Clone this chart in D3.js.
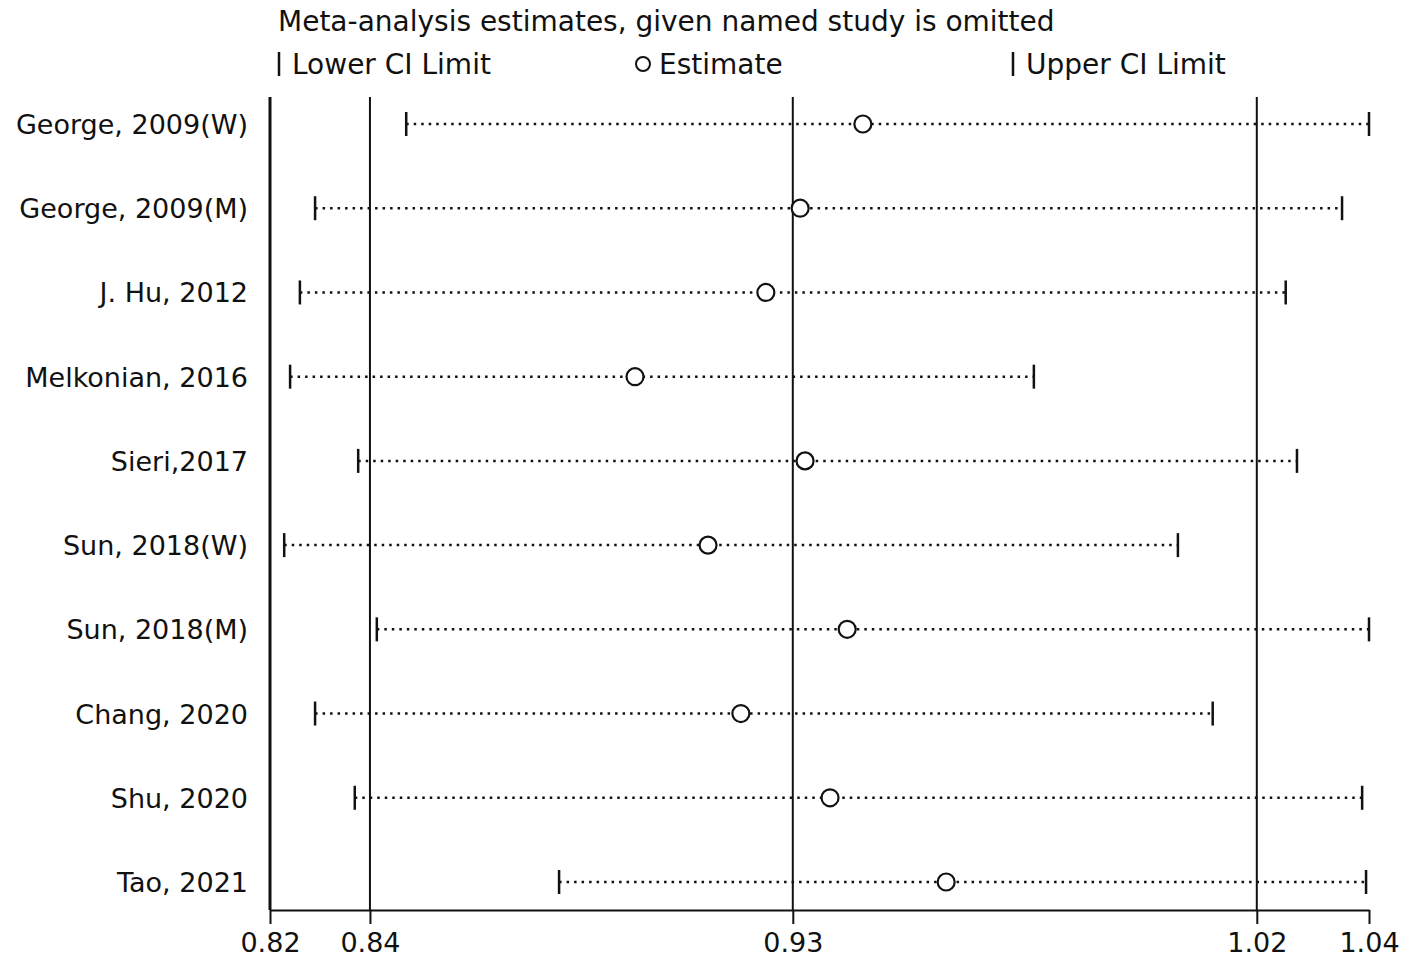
<!DOCTYPE html>
<html>
<head>
<meta charset="utf-8">
<script src="https://cdn.jsdelivr.net/npm/d3@7"></script>
<style>
  body { margin: 0; background: #fff; }
  text { font-family: "DejaVu Sans", "Noto Sans", sans-serif; fill: #111; }
</style>
</head>
<body>
<div id="graph1"></div>
<script>
let width = 1421;
let height = 964;

// data
let studies = ["George, 2009(W)", "George, 2009(M)", "J. Hu, 2012", "Melkonian, 2016", "Sieri,2017",
               "Sun, 2018(W)", "Sun, 2018(M)", "Chang, 2020", "Shu, 2020", "Tao, 2021"];
let lower = [0.8473, 0.8287, 0.8256, 0.8236, 0.8375, 0.8224, 0.8413, 0.8287, 0.8368, 0.8785];
let estimate = [0.9405, 0.9277, 0.9207, 0.8940, 0.9287, 0.9089, 0.9373, 0.9156, 0.9338, 0.9575];
let upper = [1.0438, 1.0383, 1.0268, 0.9754, 1.0291, 1.0048, 1.0438, 1.0119, 1.0424, 1.0432];
let tickVals = [0.8195, 0.8399, 0.9262, 1.0209, 1.0438]; // min, overall lower, overall est, overall upper, max
let refLines = [0.8399, 0.9262, 1.0209];

let svg = d3.select('#graph1')
    .append('svg')
        .attr('width', width)
        .attr('height', height);

let x = d3.scaleLinear()
    .domain([0.8195, 1.0438])
    .range([270, 1369]);

let y = d3.scalePoint()
    .domain(studies)
    .range([124, 882]);

let plotTop = 97, plotBottom = 910;

// title + legend
svg.append('text')
    .attr('x', 278).attr('y', 31)
    .style('font-size', '28px')
    .text('Meta-analysis estimates, given named study is omitted');

let legY = 64;
svg.append('line').attr('x1', 279).attr('x2', 279).attr('y1', legY - 12).attr('y2', legY + 12)
    .attr('stroke', '#111').attr('stroke-width', 2.5);
svg.append('text').attr('x', 292).attr('y', legY + 10).style('font-size', '28px').text('Lower CI Limit');
svg.append('circle').attr('cx', 643).attr('cy', legY).attr('r', 7)
    .attr('fill', 'none').attr('stroke', '#111').attr('stroke-width', 2);
svg.append('text').attr('x', 659).attr('y', legY + 10).style('font-size', '28px').text('Estimate');
svg.append('line').attr('x1', 1013).attr('x2', 1013).attr('y1', legY - 12).attr('y2', legY + 12)
    .attr('stroke', '#111').attr('stroke-width', 2.5);
svg.append('text').attr('x', 1026).attr('y', legY + 10).style('font-size', '28px').text('Upper CI Limit');

// reference lines
refLines.forEach(function(d){
    svg.append('line')
        .attr('x1', x(d)).attr('x2', x(d))
        .attr('y1', plotTop).attr('y2', plotBottom)
        .attr('stroke', '#111').attr('stroke-width', 2);
});

// left axis line
svg.append('line')
    .attr('x1', 270).attr('x2', 270)
    .attr('y1', plotTop).attr('y2', plotBottom)
    .attr('stroke', '#111').attr('stroke-width', 3);

// x axis
let xAxis = d3.axisBottom(x)
    .tickValues(tickVals)
    .tickFormat(d3.format('.2f'))
    .tickSize(14)
    .tickSizeOuter(0)
    .tickPadding(9);
let gx = svg.append('g')
    .attr('transform', 'translate(0,' + plotBottom + ')')
    .call(xAxis);
gx.select('.domain').attr('stroke', '#111').attr('stroke-width', 2);
gx.selectAll('.tick line').attr('stroke', '#111').attr('stroke-width', 2);
gx.selectAll('.tick text').style('font-size', '27px').attr('fill', '#111');

// study labels
svg.selectAll('.lab')
    .data(studies)
    .enter().append('text')
    .attr('x', 248)
    .attr('y', function(d){ return y(d) + 10; })
    .attr('text-anchor', 'end')
    .style('font-size', '27px')
    .text(function(d){ return d; });

// rows
studies.forEach(function(s, i){
    let cy = y(s);
    svg.append('line')
        .attr('x1', x(lower[i])).attr('x2', x(upper[i]))
        .attr('y1', cy).attr('y2', cy)
        .attr('stroke', '#111').attr('stroke-width', 2.5)
        .attr('stroke-dasharray', '2.5,5');
    svg.append('line')
        .attr('x1', x(lower[i])).attr('x2', x(lower[i]))
        .attr('y1', cy - 12).attr('y2', cy + 12)
        .attr('stroke', '#111').attr('stroke-width', 2.5);
    svg.append('line')
        .attr('x1', x(upper[i])).attr('x2', x(upper[i]))
        .attr('y1', cy - 12).attr('y2', cy + 12)
        .attr('stroke', '#111').attr('stroke-width', 2.5);
    svg.append('circle')
        .attr('cx', x(estimate[i])).attr('cy', cy)
        .attr('r', 8.5)
        .attr('fill', 'white')
        .attr('stroke', '#111').attr('stroke-width', 2.2);
});
</script>
</body>
</html>
